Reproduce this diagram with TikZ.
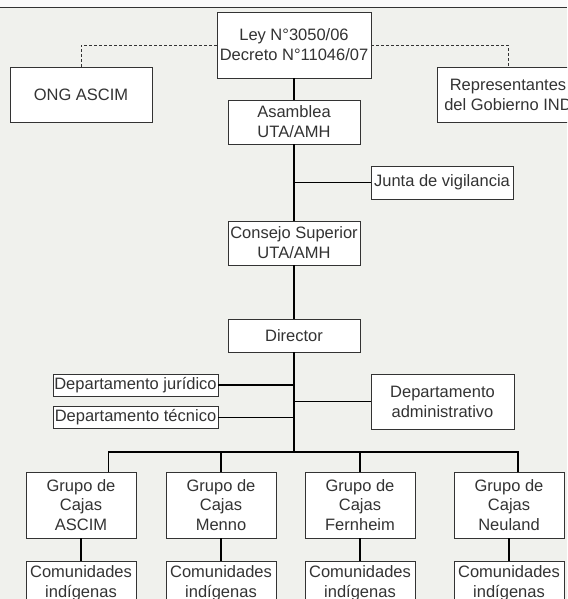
\documentclass[tikz,border=0pt]{standalone}
\usepackage{fontspec}
\setmainfont{Liberation Sans}
\usepackage{tikz}
\usetikzlibrary{positioning}

\definecolor{bg}{HTML}{F0F1ED}
\definecolor{ink}{HTML}{333333}

\begin{document}
\begin{tikzpicture}[x=1pt,y=-1pt,on grid,
    box/.style={draw=ink,fill=white,line width=0.9pt,inner sep=0pt,align=center,
      text=ink,font=\fontsize{16.5}{20}\selectfont},
    grupo/.style={box,minimum width=110pt,minimum height=66pt,
      font=\fontsize{16.5}{19.7}\selectfont},
    comunidad/.style={box,minimum width=110pt,minimum height=44pt},
    link/.style={draw=black,line width=1.1pt},
    dashlink/.style={draw=ink,line width=0.9pt,dash pattern=on 3pt off 2pt}]
    \useasboundingbox (0,0) rectangle (567,599);
    \clip (0,0) rectangle (567,599);
    \fill[bg] (0,0) rectangle (567,599);
    \fill[white!98!black] (0,0) rectangle (567,7);
    \draw[ink,line width=1.6pt] (0,7.5) -- (567,7.5);

    \node[box,minimum width=154pt,minimum height=66pt] (ley) at (294,45) {Ley N°3050/06\\Decreto N°11046/07};
    \node[box,minimum width=142pt,minimum height=55pt] (ong) at (81,94.5) {ONG ASCIM};
    \node[box,minimum width=142pt,minimum height=55pt] (rep) at (508,94.5) {Representantes\\del Gobierno IND};
    \node[box,minimum width=132pt,minimum height=44pt] (asamblea) [below=77pt of ley] {Asamblea\\UTA/AMH};
    \node[box,minimum width=142pt,minimum height=33pt] (junta) at (442,182.5) {Junta de vigilancia};
    \node[box,minimum width=132pt,minimum height=44pt] (consejo) [below=121pt of asamblea] {Consejo Superior\\UTA/AMH};
    \node[box,minimum width=132pt,minimum height=33pt] (director) [below=92.5pt of consejo] {Director};
    \node[box,minimum width=165pt,minimum height=22pt] (juridico) at (135.5,385) {Departamento jurídico};
    \node[box,minimum width=165pt,minimum height=22pt] (tecnico) [below=32.5pt of juridico] {Departamento técnico};
    \node[box,minimum width=143pt,minimum height=55pt] (admin) at (442.5,401.7) {Departamento\\administrativo};
    \coordinate (bus) at (294,452);

    \node[grupo] (g_ascim) at (81,505) {Grupo de\\Cajas\\ASCIM};
    \node[grupo] (g_menno)    [right=140pt of g_ascim]    {Grupo de\\Cajas\\Menno};
    \node[grupo] (g_fernheim) [right=139pt of g_menno]    {Grupo de\\Cajas\\Fernheim};
    \node[grupo] (g_neuland)  [right=149pt of g_fernheim] {Grupo de\\Cajas\\Neuland};
    \node[comunidad] (c_ascim)    [below=78pt of g_ascim]    {Comunidades\\indígenas};
    \node[comunidad] (c_menno)    [below=78pt of g_menno]    {Comunidades\\indígenas};
    \node[comunidad] (c_fernheim) [below=78pt of g_fernheim] {Comunidades\\indígenas};
    \node[comunidad] (c_neuland)  [below=78pt of g_neuland]  {Comunidades\\indígenas};

    \path[link]
    (ley) edge (asamblea)
    (asamblea) edge (consejo)
    (consejo) edge (director)
    (director) edge (bus)
    % side boxes
    (junta) edge (junta -| asamblea)
    (juridico) edge (juridico -| director)
    (tecnico) edge (tecnico -| director)
    (admin) edge (admin -| director)
    % grupos
    (g_menno) edge (g_menno |- bus)
    (g_fernheim) edge (g_fernheim |- bus)
    (g_ascim) edge (c_ascim)
    (g_menno) edge (c_menno)
    (g_fernheim) edge (c_fernheim)
    (g_neuland) edge (c_neuland);
    \draw[link] ([xshift=27.5pt]g_ascim.north) |- (bus) -| ([xshift=9pt]g_neuland.north);
    % dashed edges
    \draw[dashlink] (ley.west) -| (ong.north);
    \draw[dashlink] (ley.east) -| (rep.north);
\end{tikzpicture}
\end{document}
